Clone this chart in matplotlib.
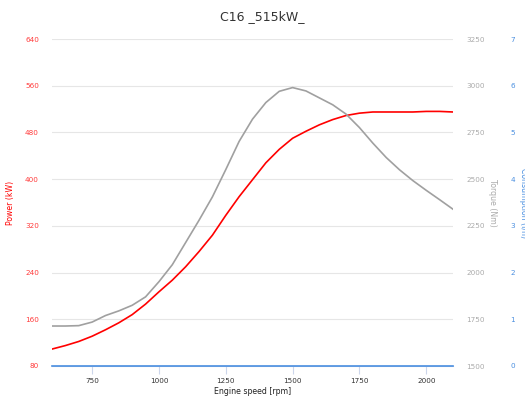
import matplotlib
matplotlib.use("Agg")
import matplotlib.pyplot as plt

# engine speed (rpm)
rpm = [600, 650, 700, 750, 800, 850, 900, 950, 1000, 1050, 1100, 1150, 1200,
       1250, 1300, 1350, 1400, 1450, 1500, 1550, 1600, 1650, 1700, 1750,
       1800, 1850, 1900, 1950, 2000, 2050, 2100]
# power (kW)
power = [109, 115, 122, 131, 142, 154, 168, 186, 207, 227, 250, 276, 304,
         338, 370, 399, 428, 451, 470, 482, 493, 502, 509, 513,
         515, 515, 515, 515, 516, 516, 515]
# torque (Nm)
torque = [1714, 1714, 1716, 1735, 1770, 1795, 1825, 1870, 1951, 2042, 2161,
          2280, 2405, 2551, 2702, 2821, 2910, 2970, 2990, 2972, 2935, 2898,
          2848, 2776, 2693, 2616, 2550, 2492, 2440, 2390, 2339]
# third series, all zero
cons = [0] * len(rpm)

power_ticks = [80, 160, 240, 320, 400, 480, 560, 640]
torque_ticks = [1500, 1750, 2000, 2250, 2500, 2750, 3000, 3250]
cons_ticks = [0, 1, 2, 3, 4, 5, 6, 7]
x_ticks = [750, 1000, 1250, 1500, 1750, 2000]

RED = "#ff0000"
GRAY = "#a0a0a0"
BLUE = "#4a8fe0"
fs = 5.2

fig = plt.figure(figsize=(5.25, 4.01), dpi=100)
ax = fig.add_axes([52 / 525, 1 - 366 / 401, 401 / 525, 327 / 401])

ax.plot(rpm, power, color=RED, lw=1.2)
ax.set_xlim(600, 2100)
ax.set_ylim(80, 640)
ax.set_yticks(power_ticks)
ax.set_xticks(x_ticks)
ax.grid(axis="y", color="#e6e6e6", lw=0.8)
ax.set_axisbelow(True)
for s in ["top", "right", "left"]:
    ax.spines[s].set_visible(False)
ax.spines["bottom"].set_color("#ccd6eb")
ax.tick_params(axis="y", length=0, pad=9.4, labelsize=fs, labelcolor="#ff3b3b")
ax.tick_params(axis="x", length=5.8, color="#ccd6eb", pad=3, labelsize=fs,
               labelcolor="#333333")
ax.set_xlabel("Engine speed [rpm]", fontsize=5.6, color="#222222", labelpad=2)
ax.set_ylabel("Power (kW)", fontsize=5.6, color=RED)
ax.yaxis.set_label_coords(-0.092, 0.5)

ax2 = ax.twinx()
ax2.plot(rpm, torque, color=GRAY, lw=1.2)
ax2.set_ylim(1500, 3250)
ax2.set_yticks(torque_ticks)
for s in ax2.spines.values():
    s.set_visible(False)
ax2.tick_params(axis="y", length=0, pad=9.4, labelsize=fs, labelcolor="#aaaaaa")
ax2.set_ylabel("Torque (Nm)", fontsize=5.6, color="#aaaaaa", rotation=270)
ax2.yaxis.set_label_coords(1.11, 0.5)

ax3 = ax.twinx()
ax3.plot(rpm, cons, color=BLUE, lw=1.2, clip_on=False)
ax3.set_ylim(0, 7)
ax3.set_yticks(cons_ticks)
for s in ax3.spines.values():
    s.set_visible(False)
ax3.tick_params(axis="y", length=0, pad=41.5, labelsize=fs, labelcolor=BLUE)
# label sits on the right edge, partly cut off like the reference
ax3.set_ylabel("Consumption (l/h)", fontsize=5.6, color=BLUE, rotation=270,
               va="center")
ax3.yaxis.set_label_coords(1.177, 0.5)

fig.text(0.5, 1 - 17 / 401, "C16 _515kW_", ha="center", va="center",
         fontsize=9, color="#333333")

fig.savefig("out.png", dpi=100)
